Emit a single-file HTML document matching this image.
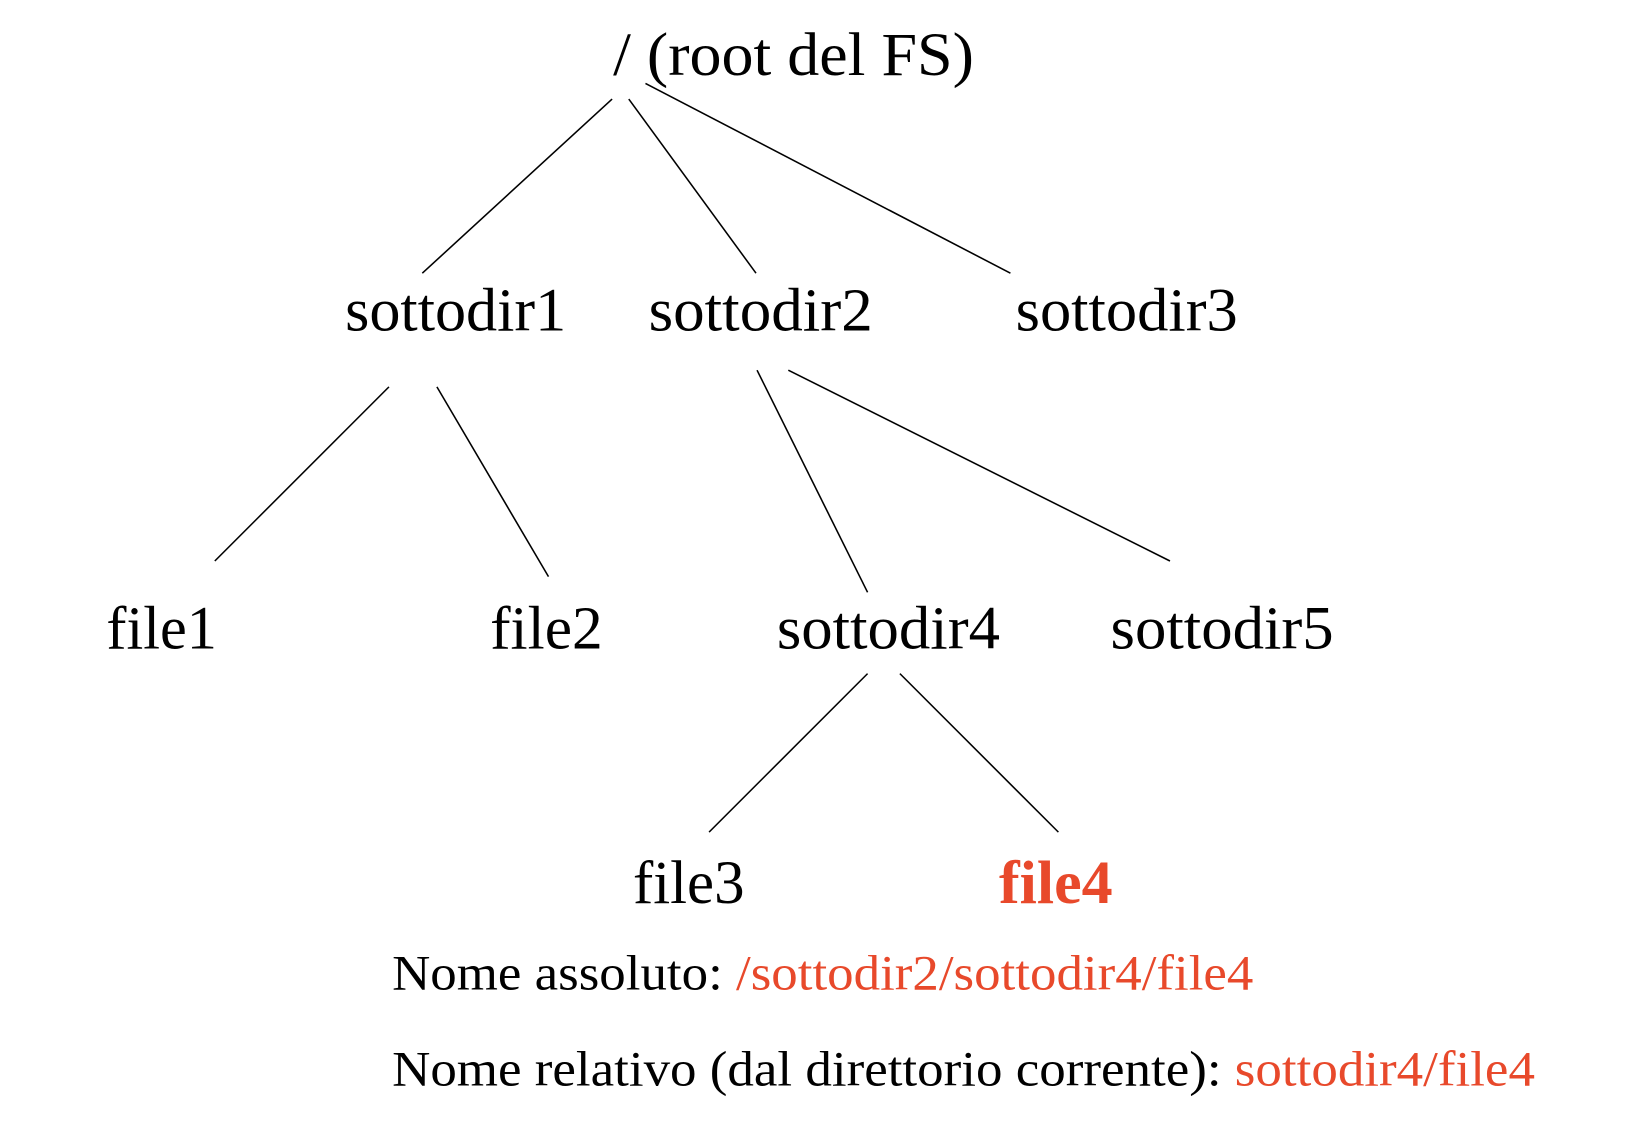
<!DOCTYPE html>
<html><head><meta charset="utf-8"><style>
html,body{margin:0;padding:0;background:#fff;}
svg{display:block;}
text{font-family:"Liberation Serif",serif;}
</style></head><body>
<svg width="1634" height="1146" viewBox="0 0 1567 1099" preserveAspectRatio="none" xmlns="http://www.w3.org/2000/svg">
<g stroke="#000" stroke-width="1.5" fill="none">
<line x1="587" y1="95" x2="405" y2="262"/>
<line x1="603" y1="95" x2="725" y2="262"/>
<line x1="619" y1="80" x2="969" y2="262"/>
<line x1="373" y1="371" x2="206" y2="538"/>
<line x1="419" y1="371" x2="526" y2="553"/>
<line x1="726" y1="355" x2="832" y2="568"/>
<line x1="756" y1="355" x2="1122" y2="538"/>
<line x1="832" y1="646" x2="680" y2="798"/>
<line x1="863" y1="646" x2="1015" y2="798"/>
</g>
<g font-size="59" fill="#000">
<text x="588" y="72" textLength="346" lengthAdjust="spacingAndGlyphs">/ (root del FS)</text>
<text x="331" y="317" textLength="212" lengthAdjust="spacingAndGlyphs">sottodir1</text>
<text x="622" y="317" textLength="215" lengthAdjust="spacingAndGlyphs">sottodir2</text>
<text x="974" y="317" textLength="213" lengthAdjust="spacingAndGlyphs">sottodir3</text>
<text x="102" y="622" textLength="106" lengthAdjust="spacingAndGlyphs">file1</text>
<text x="470" y="622" textLength="108" lengthAdjust="spacingAndGlyphs">file2</text>
<text x="745" y="622" textLength="214" lengthAdjust="spacingAndGlyphs">sottodir4</text>
<text x="1065" y="622" textLength="214" lengthAdjust="spacingAndGlyphs">sottodir5</text>
<text x="607" y="866" textLength="107" lengthAdjust="spacingAndGlyphs">file3</text>
<text x="958" y="866" font-weight="bold" fill="#e8492b" textLength="109" lengthAdjust="spacingAndGlyphs">file4</text>
</g>
<g font-size="48" fill="#000">
<text x="376" y="949" textLength="826" lengthAdjust="spacingAndGlyphs">Nome assoluto: <tspan fill="#e8492b">/sottodir2/sottodir4/file4</tspan></text>
<text x="376" y="1041" textLength="1096" lengthAdjust="spacingAndGlyphs">Nome relativo (dal direttorio corrente): <tspan fill="#e8492b">sottodir4/file4</tspan></text>
</g>
</svg>
</body></html>
